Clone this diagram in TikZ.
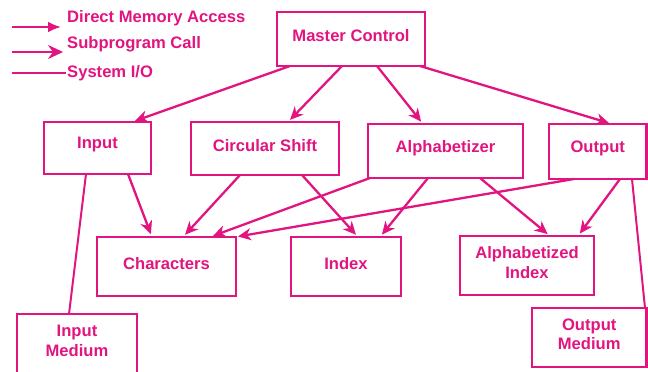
\documentclass[tikz,border=0pt]{standalone}
\usepackage{fontspec}
\setmainfont{Liberation Sans}
\usetikzlibrary{arrows.meta,calc}
\definecolor{pk}{RGB}{226,20,128}
% module box: name, centre, width, height, text (text sits a little above centre)
\newcommand{\kwicbox}[5]{%
  \node[box, minimum width=#3, minimum height=#4] (#1) at #2 {};
  \node[lbl, yshift=3pt] (#1-t) at (#1.center) {#5};
}
\begin{document}
\begin{tikzpicture}[x=1pt,y=-1pt,
  box/.style={draw=pk, line width=2.8pt, rectangle, inner sep=0pt, outer sep=0pt},
  lbl/.style={text=pk, font=\fontsize{16.6}{19.5}\selectfont\bfseries, align=center, inner sep=0pt},
  conn/.style={draw=pk, line width=2.3pt, -{Stealth[length=13pt,width=12pt,inset=4pt]}, shorten >=3pt},
  io/.style={draw=pk, line width=2pt}]
\useasboundingbox (0,0) rectangle (648,372);

% legend
\coordinate (k1a) at (12,27); \coordinate (k1b) at (61,27);
\coordinate (k2a) at (12,52); \coordinate (k2b) at (63,52);
\coordinate (k3a) at (12,73); \coordinate (k3b) at (66,73);
\draw[pk, line width=2.3pt, -{Latex[length=13pt,width=11pt]}] (k1a) -- (k1b);
\draw[pk, line width=2.3pt, -{Stealth[length=15pt,width=14pt,inset=5pt]}] (k2a) -- (k2b);
\draw[io] (k3a) -- (k3b);
\node[lbl, anchor=base west] (t1) at (67,23) {Direct Memory Access};
\node[lbl, anchor=base west] (t2) at (67,48.5) {Subprogram Call};
\node[lbl, anchor=base west] (t3) at (67,77.5) {System I/O};

% modules
\kwicbox{mc}{(351,39)}{148}{54}{Master Control}
\kwicbox{in}{(97.5,148)}{107}{52}{Input}
\kwicbox{cs}{(265,148.5)}{148}{53}{Circular Shift}
\kwicbox{al}{(445.5,151)}{155}{54}{Alphabetizer}
\kwicbox{out}{(597.75,151.5)}{97.5}{55}{Output}
\kwicbox{ch}{(166.5,266.5)}{139}{59}{Characters}
\kwicbox{ix}{(346,266.5)}{110}{59}{Index}
\kwicbox{ai}{(527,265.5)}{134}{59}{Alphabetized\\Index}
\kwicbox{im}{(77,344)}{120}{60}{Input\\Medium}
\kwicbox{om}{(589.25,337.5)}{114.5}{59}{Output\\Medium}

% calls from the master control
\draw[conn] ($(mc.south west)+(13,0)$)  -- ($(in.north west)+(88,0)$);
\draw[conn] ($(mc.south west)+(65,0)$)  -- ($(cs.north west)+(97,0)$);
\draw[conn] ($(mc.south west)+(100,0)$) -- ($(al.north west)+(55,0)$);
\draw[conn] ($(mc.south west)+(143,0)$) -- ($(out.north west)+(63,0)$);

% memory access
\draw[conn] ($(in.south west)+(84,0)$)  -- ($(ch.north west)+(55,0)$);
\draw[conn] ($(cs.south west)+(49,0)$)  -- ($(ch.north west)+(86,0)$);
\draw[conn] ($(cs.south west)+(111,0)$) -- ($(ix.north west)+(67,0)$);
\draw[conn] ($(al.south west)+(2,0)$)   -- ($(ch.north west)+(113,0)$);
\draw[conn] ($(out.south west)+(25,0)$) -- ($(ch.north west)+(138,0)$);
\draw[conn] ($(al.south west)+(60,0)$)  -- ($(ix.north west)+(89,0)$);
\draw[conn] ($(al.south west)+(112,0)$) -- ($(ai.north west)+(90,0)$);
\draw[conn] ($(out.south west)+(71,0)$) -- ($(ai.north west)+(118,0)$);

% system I/O
\draw[io] ($(in.south west)+(42,0)$)  -- ($(im.north west)+(52,0)$);
\draw[io] ($(out.south west)+(83,0)$) -- ($(om.north west)+(113,0)$);
\end{tikzpicture}
\end{document}
